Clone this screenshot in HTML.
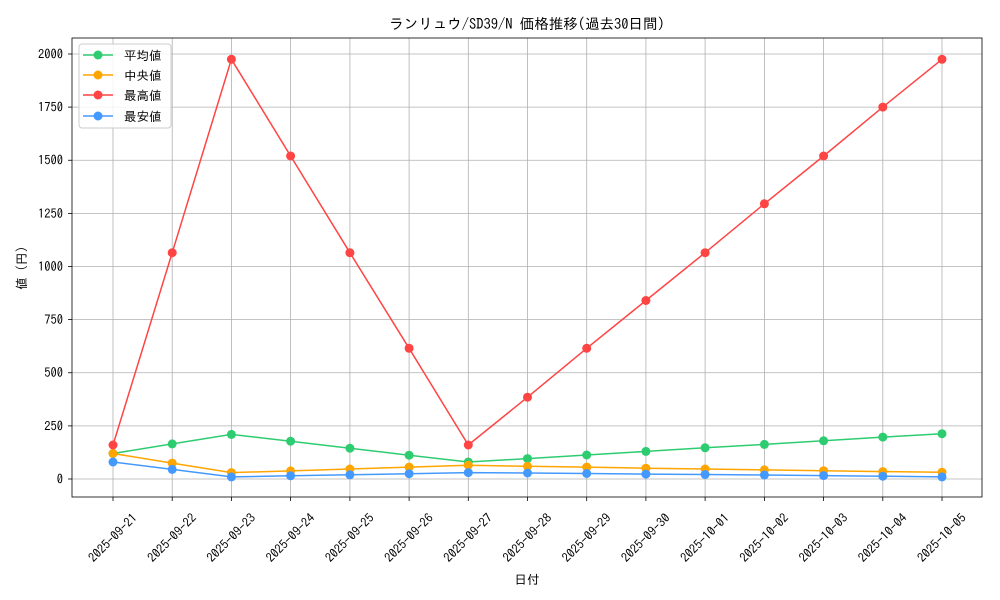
<!DOCTYPE html>
<html><head><meta charset="utf-8"><style>
body{margin:0;background:#fff;}
svg{display:block;font-family:"IPAGothic","Liberation Sans","Noto Sans CJK JP",sans-serif;}
</style></head><body>
<svg width="1000" height="600" viewBox="0 0 1000 600" xmlns="http://www.w3.org/2000/svg">
<rect width="1000" height="600" fill="#fff"/>
<g stroke="#b0b0b0" stroke-width="0.8">
<line x1="113" y1="38" x2="113" y2="497"/><line x1="172.2" y1="38" x2="172.2" y2="497"/><line x1="231.4" y1="38" x2="231.4" y2="497"/><line x1="290.6" y1="38" x2="290.6" y2="497"/><line x1="349.9" y1="38" x2="349.9" y2="497"/><line x1="409.1" y1="38" x2="409.1" y2="497"/><line x1="468.3" y1="38" x2="468.3" y2="497"/><line x1="527.5" y1="38" x2="527.5" y2="497"/><line x1="586.7" y1="38" x2="586.7" y2="497"/><line x1="645.9" y1="38" x2="645.9" y2="497"/><line x1="705.1" y1="38" x2="705.1" y2="497"/><line x1="764.4" y1="38" x2="764.4" y2="497"/><line x1="823.6" y1="38" x2="823.6" y2="497"/><line x1="882.8" y1="38" x2="882.8" y2="497"/><line x1="942" y1="38" x2="942" y2="497"/>
<line x1="72" y1="479" x2="982" y2="479"/><line x1="72" y1="425.9" x2="982" y2="425.9"/><line x1="72" y1="372.75" x2="982" y2="372.75"/><line x1="72" y1="319.6" x2="982" y2="319.6"/><line x1="72" y1="266.5" x2="982" y2="266.5"/><line x1="72" y1="213.4" x2="982" y2="213.4"/><line x1="72" y1="160.25" x2="982" y2="160.25"/><line x1="72" y1="107.1" x2="982" y2="107.1"/><line x1="72" y1="54" x2="982" y2="54"/>
</g>
<rect x="72" y="38" width="910" height="459" fill="none" stroke="#000" stroke-width="0.8"/>
<g stroke="#000" stroke-width="0.8">
<line x1="113" y1="497" x2="113" y2="501"/><line x1="172.2" y1="497" x2="172.2" y2="501"/><line x1="231.4" y1="497" x2="231.4" y2="501"/><line x1="290.6" y1="497" x2="290.6" y2="501"/><line x1="349.9" y1="497" x2="349.9" y2="501"/><line x1="409.1" y1="497" x2="409.1" y2="501"/><line x1="468.3" y1="497" x2="468.3" y2="501"/><line x1="527.5" y1="497" x2="527.5" y2="501"/><line x1="586.7" y1="497" x2="586.7" y2="501"/><line x1="645.9" y1="497" x2="645.9" y2="501"/><line x1="705.1" y1="497" x2="705.1" y2="501"/><line x1="764.4" y1="497" x2="764.4" y2="501"/><line x1="823.6" y1="497" x2="823.6" y2="501"/><line x1="882.8" y1="497" x2="882.8" y2="501"/><line x1="942" y1="497" x2="942" y2="501"/>
<line x1="68" y1="479" x2="72" y2="479"/><line x1="68" y1="425.9" x2="72" y2="425.9"/><line x1="68" y1="372.75" x2="72" y2="372.75"/><line x1="68" y1="319.6" x2="72" y2="319.6"/><line x1="68" y1="266.5" x2="72" y2="266.5"/><line x1="68" y1="213.4" x2="72" y2="213.4"/><line x1="68" y1="160.25" x2="72" y2="160.25"/><line x1="68" y1="107.1" x2="72" y2="107.1"/><line x1="68" y1="54" x2="72" y2="54"/>
</g>
<g font-size="12.5" text-anchor="end" fill="#000">
<text x="63" y="483.5">0</text><text x="63" y="430.4">250</text><text x="63" y="377.2">500</text><text x="63" y="324.1">750</text><text x="63" y="271">1000</text><text x="63" y="217.9">1250</text><text x="63" y="164.7">1500</text><text x="63" y="111.6">1750</text><text x="63" y="58.5">2000</text>
</g>
<g font-size="12.5" text-anchor="middle" fill="#000">
<text transform="translate(113,538) rotate(-45)" dy="4">2025-09-21</text>
<text transform="translate(172.2,538) rotate(-45)" dy="4">2025-09-22</text>
<text transform="translate(231.4,538) rotate(-45)" dy="4">2025-09-23</text>
<text transform="translate(290.6,538) rotate(-45)" dy="4">2025-09-24</text>
<text transform="translate(349.9,538) rotate(-45)" dy="4">2025-09-25</text>
<text transform="translate(409.1,538) rotate(-45)" dy="4">2025-09-26</text>
<text transform="translate(468.3,538) rotate(-45)" dy="4">2025-09-27</text>
<text transform="translate(527.5,538) rotate(-45)" dy="4">2025-09-28</text>
<text transform="translate(586.7,538) rotate(-45)" dy="4">2025-09-29</text>
<text transform="translate(645.9,538) rotate(-45)" dy="4">2025-09-30</text>
<text transform="translate(705.1,538) rotate(-45)" dy="4">2025-10-01</text>
<text transform="translate(764.4,538) rotate(-45)" dy="4">2025-10-02</text>
<text transform="translate(823.6,538) rotate(-45)" dy="4">2025-10-03</text>
<text transform="translate(882.8,538) rotate(-45)" dy="4">2025-10-04</text>
<text transform="translate(942,538) rotate(-45)" dy="4">2025-10-05</text>
</g>
<text x="527" y="584" font-size="12.5" text-anchor="middle">日付</text>
<text transform="translate(26,268) rotate(-90)" font-size="12.5" text-anchor="middle">値 (円)</text>
<text x="527" y="29" font-size="14.5" text-anchor="middle">ランリュウ/SD39/N 価格推移(過去30日間)</text>
<polyline fill="none" stroke="#2ecc71" stroke-width="1.5" points="113,453.5 172.2,443.9 231.4,434.4 290.6,441.2 349.9,448.2 409.1,455.2 468.3,462 527.5,458.6 586.7,455 645.9,451.4 705.1,447.8 764.4,444.4 823.6,440.8 882.8,437.1 942,433.7"/>
<polyline fill="none" stroke="#ffa500" stroke-width="1.5" points="113,453.5 172.2,463.1 231.4,472.6 290.6,470.9 349.9,469 409.1,467.1 468.3,465.2 527.5,466.3 586.7,467.1 645.9,468.2 705.1,469 764.4,469.9 823.6,470.7 882.8,471.6 942,472.2"/>
<polyline fill="none" stroke="#ff4444" stroke-width="1.5" points="113,445 172.2,252.7 231.4,59.3 290.6,156 349.9,252.7 409.1,348.3 468.3,445 527.5,397.2 586.7,348.3 645.9,300.5 705.1,252.7 764.4,203.8 823.6,156 882.8,107.1 942,59.3"/>
<polyline fill="none" stroke="#4499ff" stroke-width="1.5" points="113,462 172.2,469.4 231.4,476.9 290.6,475.8 349.9,474.8 409.1,473.7 468.3,472.6 527.5,473 586.7,473.5 645.9,474.1 705.1,474.5 764.4,475 823.6,475.6 882.8,476.2 942,476.9"/>
<g fill="#2ecc71"><circle cx="113" cy="453.5" r="4.5"/><circle cx="172.2" cy="443.9" r="4.5"/><circle cx="231.4" cy="434.4" r="4.5"/><circle cx="290.6" cy="441.2" r="4.5"/><circle cx="349.9" cy="448.2" r="4.5"/><circle cx="409.1" cy="455.2" r="4.5"/><circle cx="468.3" cy="462" r="4.5"/><circle cx="527.5" cy="458.6" r="4.5"/><circle cx="586.7" cy="455" r="4.5"/><circle cx="645.9" cy="451.4" r="4.5"/><circle cx="705.1" cy="447.8" r="4.5"/><circle cx="764.4" cy="444.4" r="4.5"/><circle cx="823.6" cy="440.8" r="4.5"/><circle cx="882.8" cy="437.1" r="4.5"/><circle cx="942" cy="433.7" r="4.5"/></g>
<g fill="#ffa500"><circle cx="113" cy="453.5" r="4.5"/><circle cx="172.2" cy="463.1" r="4.5"/><circle cx="231.4" cy="472.6" r="4.5"/><circle cx="290.6" cy="470.9" r="4.5"/><circle cx="349.9" cy="469" r="4.5"/><circle cx="409.1" cy="467.1" r="4.5"/><circle cx="468.3" cy="465.2" r="4.5"/><circle cx="527.5" cy="466.3" r="4.5"/><circle cx="586.7" cy="467.1" r="4.5"/><circle cx="645.9" cy="468.2" r="4.5"/><circle cx="705.1" cy="469" r="4.5"/><circle cx="764.4" cy="469.9" r="4.5"/><circle cx="823.6" cy="470.7" r="4.5"/><circle cx="882.8" cy="471.6" r="4.5"/><circle cx="942" cy="472.2" r="4.5"/></g>
<g fill="#ff4444"><circle cx="113" cy="445" r="4.5"/><circle cx="172.2" cy="252.7" r="4.5"/><circle cx="231.4" cy="59.3" r="4.5"/><circle cx="290.6" cy="156" r="4.5"/><circle cx="349.9" cy="252.7" r="4.5"/><circle cx="409.1" cy="348.3" r="4.5"/><circle cx="468.3" cy="445" r="4.5"/><circle cx="527.5" cy="397.2" r="4.5"/><circle cx="586.7" cy="348.3" r="4.5"/><circle cx="645.9" cy="300.5" r="4.5"/><circle cx="705.1" cy="252.7" r="4.5"/><circle cx="764.4" cy="203.8" r="4.5"/><circle cx="823.6" cy="156" r="4.5"/><circle cx="882.8" cy="107.1" r="4.5"/><circle cx="942" cy="59.3" r="4.5"/></g>
<g fill="#4499ff"><circle cx="113" cy="462" r="4.5"/><circle cx="172.2" cy="469.4" r="4.5"/><circle cx="231.4" cy="476.9" r="4.5"/><circle cx="290.6" cy="475.8" r="4.5"/><circle cx="349.9" cy="474.8" r="4.5"/><circle cx="409.1" cy="473.7" r="4.5"/><circle cx="468.3" cy="472.6" r="4.5"/><circle cx="527.5" cy="473" r="4.5"/><circle cx="586.7" cy="473.5" r="4.5"/><circle cx="645.9" cy="474.1" r="4.5"/><circle cx="705.1" cy="474.5" r="4.5"/><circle cx="764.4" cy="475" r="4.5"/><circle cx="823.6" cy="475.6" r="4.5"/><circle cx="882.8" cy="476.2" r="4.5"/><circle cx="942" cy="476.9" r="4.5"/></g>
<rect x="79" y="44" width="92" height="84" rx="3" fill="#fff" fill-opacity="0.85" stroke="#ccc" stroke-width="1"/>
<g stroke-width="1.5">
<line x1="83" y1="55" x2="113" y2="55" stroke="#2ecc71"/><circle cx="98" cy="55" r="4.5" fill="#2ecc71"/>
<line x1="83" y1="75" x2="113" y2="75" stroke="#ffa500"/><circle cx="98" cy="75" r="4.5" fill="#ffa500"/>
<line x1="83" y1="95" x2="113" y2="95" stroke="#ff4444"/><circle cx="98" cy="95" r="4.5" fill="#ff4444"/>
<line x1="83" y1="116" x2="113" y2="116" stroke="#4499ff"/><circle cx="98" cy="116" r="4.5" fill="#4499ff"/>
</g>
<g font-size="12.5">
<text x="124" y="60">平均値</text><text x="124" y="80">中央値</text><text x="124" y="100">最高値</text><text x="124" y="121">最安値</text>
</g>
</svg>
</body></html>
